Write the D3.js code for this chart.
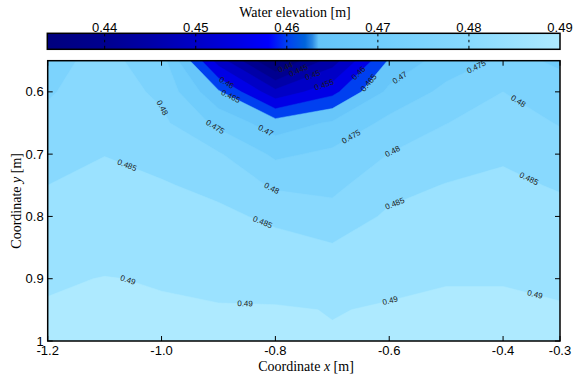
<!DOCTYPE html>
<html>
<head>
<meta charset="utf-8">
<script src="https://cdn.jsdelivr.net/npm/d3@7"></script>
<style>
  body { margin: 0; background: #fff; }
  svg { display: block; }
  .tick-label { font-family: "Liberation Sans", Arial, sans-serif; font-size: 13px; fill: #000; }
  .title { font-family: "Liberation Serif", "Times New Roman", serif; font-size: 14px; fill: #000; }
  .clabel { font-family: "Liberation Sans", Arial, sans-serif; font-size: 8px; fill: #1a1a1a; }
</style>
</head>
<body>
<div id="chart"></div>
<script>
// grid of the measured field (columns = x, rows = y)
const xValues = [-1.2, -1.1, -1.0, -0.9, -0.8, -0.7, -0.6, -0.5, -0.4, -0.3];
const yValues = [0.55, 0.6, 0.65, 0.7, 0.75, 0.8, 0.85, 0.9, 0.95, 1.0];
const elevation = [
  [0.4785, 0.4815, 0.4772, 0.4528, 0.4337, 0.4475, 0.4656, 0.4725, 0.4758, 0.4746],
  [0.4795, 0.4826, 0.4790, 0.4657, 0.4515, 0.4584, 0.4713, 0.4762, 0.4800, 0.4760],
  [0.4813, 0.4838, 0.4811, 0.4737, 0.4672, 0.4707, 0.4764, 0.4799, 0.4822, 0.4797],
  [0.4831, 0.4849, 0.4834, 0.4805, 0.4740, 0.4761, 0.4801, 0.4826, 0.4844, 0.4822],
  [0.4850, 0.4862, 0.4854, 0.4838, 0.4792, 0.4787, 0.4834, 0.4852, 0.4859, 0.4846],
  [0.4865, 0.4875, 0.4869, 0.4860, 0.4841, 0.4819, 0.4858, 0.4867, 0.4873, 0.4863],
  [0.4879, 0.4888, 0.4883, 0.4876, 0.4866, 0.4855, 0.4874, 0.4884, 0.4886, 0.4877],
  [0.4896, 0.4901, 0.4898, 0.4893, 0.4885, 0.4875, 0.4895, 0.4899, 0.4899, 0.4895],
  [0.4903, 0.4903, 0.4903, 0.4902, 0.4903, 0.4899, 0.4902, 0.4903, 0.4903, 0.4902],
  [0.4903, 0.4903, 0.4903, 0.4903, 0.4903, 0.4902, 0.4903, 0.4903, 0.4903, 0.4903]
];
const levels = [0.44, 0.445, 0.45, 0.455, 0.46, 0.465, 0.47, 0.475, 0.48, 0.485, 0.49];

const xTicks = [-1.2, -1.0, -0.8, -0.6, -0.4, -0.3];
const yTicks = [0.6, 0.7, 0.8, 0.9, 1];
const barTicks = [0.44, 0.45, 0.46, 0.47, 0.48, 0.49];
const barMax = 0.49;

// colormap stops
const cmapValues = [0.4337, 0.44, 0.445, 0.45, 0.455, 0.458, 0.46, 0.462, 0.4628, 0.4635, 0.47, 0.48, 0.49];
const cmapColors = ["#00007e", "#00008f", "#0000a8", "#0000c6", "#0000e6", "#0000ff", "#0040f0",
  "#0064dc", "#2a88e4", "#64c4f9", "#70cdfc", "#88d9fe", "#aeeaff"];

// contour labels: level and approximate place
const labelLevels = [0.44, 0.445, 0.45, 0.455, 0.46, 0.465, 0.46, 0.465, 0.47, 0.47,
  0.475, 0.475, 0.475, 0.48, 0.48, 0.48, 0.48, 0.485, 0.485, 0.485, 0.485, 0.49, 0.49, 0.49, 0.49];
const labelX = [-0.783, -0.760, -0.734, -0.716, -0.656, -0.646, -0.885, -0.880, -0.813, -0.581,
  -0.906, -0.672, -0.447, -1.006, -0.808, -0.593, -0.374, -1.059, -0.823, -0.593, -0.354, -1.059, -0.853, -0.600, -0.342];
const labelY = [0.560, 0.565, 0.5746, 0.584, 0.568, 0.578, 0.584, 0.610, 0.655, 0.578,
  0.6565, 0.664, 0.560, 0.629, 0.7575, 0.698, 0.616, 0.714, 0.8105, 0.7735, 0.738, 0.902, 0.931, 0.929, 0.918];

const width = 577, height = 376;
const plot = { left: 47.7, right: 560, top: 60.7, bottom: 341 };

const svg = d3.select("#chart").append("svg")
  .attr("width", width)
  .attr("height", height);

const x = d3.scaleLinear().domain([-1.2, -0.3]).range([plot.left, plot.right]);
const y = d3.scaleLinear().domain([0.55, 1.0]).range([plot.top, plot.bottom]);

const nx = xValues.length, ny = yValues.length;
// d3.contours puts sample i at grid coordinate i + 0.5
const gx = d3.scaleLinear().domain([0.5, nx - 0.5]).range([x(xValues[0]), x(xValues[nx - 1])]);
const gy = d3.scaleLinear().domain([0.5, ny - 0.5]).range([y(yValues[0]), y(yValues[ny - 1])]);

const flat = elevation.flat();
const vmin = d3.min(flat);
const cmap = d3.scaleLinear().domain(cmapValues).range(cmapColors).interpolate(d3.interpolateRgb).clamp(true);

const gridPath = d3.geoPath(d3.geoTransform({
  point(px, py) { this.stream.point(gx(px), gy(py)); }
}));

svg.append("defs").append("clipPath")
  .attr("id", "clip")
  .append("rect")
  .attr("x", plot.left).attr("y", plot.top)
  .attr("width", plot.right - plot.left).attr("height", plot.bottom - plot.top);

const field = svg.append("g").attr("clip-path", "url(#clip)");

field.append("rect")
  .attr("x", plot.left).attr("y", plot.top)
  .attr("width", plot.right - plot.left).attr("height", plot.bottom - plot.top)
  .attr("fill", cmap(vmin));

const contours = d3.contours().size([nx, ny]).thresholds(levels)(flat);

field.selectAll("path.band")
  .data(contours)
  .join("path")
  .attr("class", "band")
  .attr("d", gridPath)
  .attr("fill", d => cmap(d.value))
  .attr("stroke", d => cmap(d.value))
  .attr("stroke-width", 0.5);

// contour labels, snapped onto their line and turned along it
const inside = (g0, g1) => g0 >= 0.5 - 1e-6 && g0 <= nx - 0.5 + 1e-6 && g1 >= 0.5 - 1e-6 && g1 <= ny - 0.5 + 1e-6;
const labels = labelLevels.map((lvl, i) => {
  const px = x(labelX[i]), py = y(labelY[i]);
  const c = contours.find(d => Math.abs(d.value - lvl) < 1e-9);
  let best = { dist: Infinity, x: px, y: py, angle: 0 };
  if (c) {
    c.coordinates.forEach(poly => poly.forEach(ring => {
      for (let k = 0; k < ring.length - 1; k++) {
        if (!inside(ring[k][0], ring[k][1]) || !inside(ring[k + 1][0], ring[k + 1][1])) continue;
        const ax = gx(ring[k][0]), ay = gy(ring[k][1]);
        const bx = gx(ring[k + 1][0]), by = gy(ring[k + 1][1]);
        const dx = bx - ax, dy = by - ay;
        const len2 = dx * dx + dy * dy;
        if (len2 === 0) continue;
        let t = ((px - ax) * dx + (py - ay) * dy) / len2;
        t = Math.max(0, Math.min(1, t));
        const qx = ax + t * dx, qy = ay + t * dy;
        const dist = Math.hypot(px - qx, py - qy);
        if (dist < best.dist) {
          let angle = Math.atan2(dy, dx) * 180 / Math.PI;
          if (angle > 90) angle -= 180;
          if (angle < -90) angle += 180;
          best = { dist, x: qx, y: qy, angle };
        }
      }
    }));
  }
  return { text: String(lvl), x: best.x, y: best.y, angle: best.angle };
});

field.selectAll("text.clabel")
  .data(labels)
  .join("text")
  .attr("class", "clabel")
  .attr("text-anchor", "middle")
  .attr("dominant-baseline", "central")
  .attr("transform", d => `translate(${d.x},${d.y}) rotate(${d.angle})`)
  .text(d => d.text);

// axes box with inward ticks
const axes = svg.append("g");
const tickLen = 5;
axes.selectAll("line.xt")
  .data(xTicks)
  .join("line")
  .attr("class", "xt")
  .attr("x1", d => x(d)).attr("x2", d => x(d))
  .attr("y1", plot.bottom).attr("y2", plot.bottom - tickLen)
  .attr("stroke", "#000").attr("stroke-width", 1);
axes.selectAll("line.xt2")
  .data(xTicks)
  .join("line")
  .attr("class", "xt2")
  .attr("x1", d => x(d)).attr("x2", d => x(d))
  .attr("y1", plot.top).attr("y2", plot.top + tickLen)
  .attr("stroke", "#000").attr("stroke-width", 1);
axes.selectAll("line.yt")
  .data(yTicks)
  .join("line")
  .attr("class", "yt")
  .attr("x1", plot.left).attr("x2", plot.left + tickLen)
  .attr("y1", d => y(d)).attr("y2", d => y(d))
  .attr("stroke", "#000").attr("stroke-width", 1);
axes.selectAll("line.yt2")
  .data(yTicks)
  .join("line")
  .attr("class", "yt2")
  .attr("x1", plot.right).attr("x2", plot.right - tickLen)
  .attr("y1", d => y(d)).attr("y2", d => y(d))
  .attr("stroke", "#000").attr("stroke-width", 1);

axes.append("rect")
  .attr("x", plot.left).attr("y", plot.top)
  .attr("width", plot.right - plot.left).attr("height", plot.bottom - plot.top)
  .attr("fill", "none").attr("stroke", "#000").attr("stroke-width", 1.5);

const fmtX = d3.format(".1f");
axes.selectAll("text.xl")
  .data(xTicks)
  .join("text")
  .attr("class", "tick-label xl")
  .attr("x", d => x(d)).attr("y", plot.bottom + 14)
  .attr("text-anchor", "middle")
  .text(d => fmtX(d).replace("−", "-"));

axes.selectAll("text.yl")
  .data(yTicks)
  .join("text")
  .attr("class", "tick-label yl")
  .attr("x", plot.left - 4).attr("y", d => y(d) + 4.5)
  .attr("text-anchor", "end")
  .text(d => d === 1 ? "1" : d3.format(".1f")(d));

const xTitle = axes.append("text")
  .attr("class", "title")
  .attr("x", 306).attr("y", 370.5)
  .attr("text-anchor", "middle");
xTitle.append("tspan").text("Coordinate ");
xTitle.append("tspan").attr("font-style", "italic").text("x");
xTitle.append("tspan").text(" [m]");

const yTitle = axes.append("text")
  .attr("class", "title")
  .attr("transform", `translate(21,${(plot.top + plot.bottom) / 2}) rotate(-90)`)
  .attr("text-anchor", "middle");
yTitle.append("tspan").text("Coordinate ");
yTitle.append("tspan").attr("font-style", "italic").text("y");
yTitle.append("tspan").text(" [m]");

// colorbar
const bar = { left: 47.3, right: 560, top: 33.3, bottom: 49.3 };
const cb = d3.scaleLinear().domain([vmin, barMax]).range([bar.left, bar.right]);

const grad = svg.select("defs").append("linearGradient")
  .attr("id", "cbar")
  .attr("x1", "0%").attr("x2", "100%").attr("y1", "0%").attr("y2", "0%");
grad.selectAll("stop")
  .data(cmapValues.filter(v => v >= vmin && v <= barMax))
  .join("stop")
  .attr("offset", d => ((d - vmin) / (barMax - vmin) * 100) + "%")
  .attr("stop-color", d => cmap(d));

svg.append("rect")
  .attr("x", bar.left).attr("y", bar.top)
  .attr("width", bar.right - bar.left).attr("height", bar.bottom - bar.top)
  .attr("fill", "url(#cbar)")
  .attr("stroke", "#000").attr("stroke-width", 1.5);

svg.selectAll("line.cbt")
  .data(barTicks.filter(v => v < barMax))
  .join("line")
  .attr("class", "cbt")
  .attr("x1", d => cb(d)).attr("x2", d => cb(d))
  .attr("y1", bar.top).attr("y2", bar.bottom)
  .attr("stroke", "#000").attr("stroke-width", 1)
  .attr("stroke-dasharray", "3 3.5 2.5 3.5 3.5");

svg.selectAll("text.cbl")
  .data(barTicks)
  .join("text")
  .attr("class", "tick-label cbl")
  .attr("x", d => cb(d)).attr("y", bar.top - 1)
  .attr("text-anchor", "middle")
  .text(d => d3.format(".2f")(d));

svg.append("text")
  .attr("class", "title")
  .attr("x", 295).attr("y", 17)
  .attr("text-anchor", "middle")
  .text("Water elevation [m]");
</script>
</body>
</html>
